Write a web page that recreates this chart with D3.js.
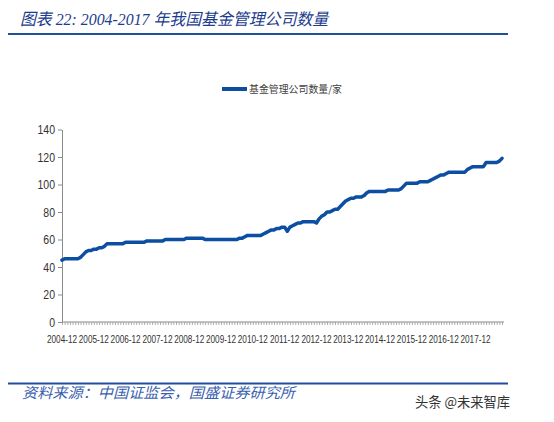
<!DOCTYPE html>
<html>
<head>
<meta charset="utf-8">
<script src="https://cdn.jsdelivr.net/npm/d3@7/dist/d3.min.js"></script>
<style>
html,body{margin:0;padding:0;background:#fff;}
svg{display:block;}
</style>
</head>
<body>
<svg id="chart" width="554" height="422"></svg>
<script>
// ---- data ----
const titleText = "图表 22:  2004-2017 年我国基金管理公司数量";
const sourceText = "资料来源：中国证监会，国盛证券研究所";
const watermarkText = "头条 @未来智库";
const seriesName = "基金管理公司数量/家";
const startYear = 2004, startMonth = 12;
const yTicks = [0, 20, 40, 60, 80, 100, 120, 140];
// monthly number of fund management companies, 2004-12 onward
const values = [
  45, 46, 46, 46, 46, 46, 46, 47, 49, 51, 52, 52,
  53, 53, 54, 54, 55, 57, 57, 57, 57, 57, 57, 57,
  58, 58, 58, 58, 58, 58, 58, 58, 59, 59, 59, 59,
  59, 59, 59, 60, 60, 60, 60, 60, 60, 60, 60, 61,
  61, 61, 61, 61, 61, 61, 60, 60, 60, 60, 60, 60,
  60, 60, 60, 60, 60, 60, 60, 61, 61, 62, 63, 63,
  63, 63, 63, 63, 64, 65, 66, 67, 67, 68, 68, 69,
  69, 66, 69, 70, 71, 72, 72, 73, 73, 73, 73, 73,
  72, 75, 77, 78, 80, 80, 81, 82, 82, 84, 86, 88,
  89, 90, 90, 91, 91, 91, 92, 94, 95, 95, 95, 95,
  95, 95, 95, 96, 96, 96, 96, 96, 97, 99, 101, 101,
  101, 101, 101, 102, 102, 102, 102, 103, 104, 105, 106, 107,
  107, 108, 109, 109, 109, 109, 109, 109, 109, 111, 112, 113,
  113, 113, 113, 113, 116, 116, 116, 116, 116, 117, 119
];
const categories = values.map((v, i) => {
  const m0 = startMonth - 1 + i;
  const y = startYear + Math.floor(m0 / 12);
  const m = (m0 % 12) + 1;
  return y + "-" + String(m).padStart(2, "0");
});

// ---- layout ----
const svg = d3.select("#chart");
const x = d3.scaleLinear().domain([0, values.length - 1]).range([62, 502]);
const y = d3.scaleLinear().domain([0, 140]).range([322, 129.5]);
const axisColor = "#8c8c8c";
const narrow = "'Liberation Sans','Arial',sans-serif";

// title
svg.append("text")
  .attr("x", 20).attr("y", 25)
  .attr("font-family", "'Liberation Serif','Noto Sans CJK SC',serif")
  .attr("font-style", "italic")
  .attr("font-size", 16.5)
  .attr("fill", "#1c3c8c")
  .attr("textLength", 308).attr("lengthAdjust", "spacingAndGlyphs")
  .text(titleText);
svg.append("line").attr("x1", 8).attr("x2", 508).attr("y1", 34).attr("y2", 34)
  .attr("stroke", "#1f4e9e").attr("stroke-width", 2);

// legend
svg.append("line").attr("x1", 222).attr("x2", 247).attr("y1", 89).attr("y2", 89)
  .attr("stroke", "#0b4ea2").attr("stroke-width", 4);
svg.append("text").attr("x", 249).attr("y", 93)
  .attr("font-family", "'Noto Sans CJK SC',sans-serif")
  .attr("font-size", 10).attr("fill", "#404040")
  .attr("textLength", 93).attr("lengthAdjust", "spacingAndGlyphs")
  .text(seriesName);

// y axis
const yAxis = svg.append("g").attr("transform", "translate(62,0)")
  .call(d3.axisLeft(y).tickValues(yTicks).tickSize(4).tickSizeOuter(0));
yAxis.select(".domain").attr("stroke", axisColor);
yAxis.selectAll(".tick line").attr("stroke", axisColor);
yAxis.selectAll(".tick text")
  .attr("font-family", narrow).attr("font-size", 10.5).attr("fill", "#333")
  .attr("x", 0).attr("dy", null)
  .attr("dominant-baseline", "central")
  .attr("transform", "translate(-7,0) scale(1,1.25)");

// x axis with monthly ticks
const xAxis = svg.append("g").attr("transform", "translate(0,322)")
  .call(d3.axisBottom(x).tickValues(d3.range(values.length)).tickSize(3).tickSizeOuter(0).tickFormat(""));
xAxis.select(".domain").attr("stroke", axisColor).attr("d", "M62,0H504");
xAxis.selectAll(".tick line").attr("stroke", axisColor).attr("stroke-width", 0.7);

const labelIdx = d3.range(0, values.length, 12);
svg.append("g").selectAll("text").data(labelIdx).join("text")
  .attr("transform", d => `translate(${x(d)},343) scale(1,1.35)`)
  .attr("text-anchor", "middle")
  .attr("font-family", narrow).attr("font-size", 8.2).attr("fill", "#333")
  .text(d => categories[d]);

// line
const line = d3.line().x((d, i) => x(i)).y(d => y(d)).curve(d3.curveLinear);
svg.append("path").datum(values)
  .attr("d", line)
  .attr("fill", "none")
  .attr("stroke", "#0b4ea2")
  .attr("stroke-width", 3.5)
  .attr("stroke-linejoin", "round")
  .attr("stroke-linecap", "round");

// footer
svg.append("line").attr("x1", 8).attr("x2", 508).attr("y1", 383.5).attr("y2", 383.5)
  .attr("stroke", "#1f4e9e").attr("stroke-width", 2);
svg.append("text").attr("x", 22).attr("y", 398)
  .attr("font-family", "'Noto Sans CJK SC',serif")
  .attr("font-style", "italic")
  .attr("font-size", 14.5).attr("fill", "#3a5fae")
  .attr("textLength", 273).attr("lengthAdjust", "spacingAndGlyphs")
  .text(sourceText);
svg.append("text").attr("x", 415).attr("y", 407)
  .attr("font-family", "'Noto Sans CJK SC',sans-serif")
  .attr("font-size", 14).attr("fill", "#333")
  .attr("textLength", 95).attr("lengthAdjust", "spacingAndGlyphs")
  .text(watermarkText);
</script>
</body>
</html>
